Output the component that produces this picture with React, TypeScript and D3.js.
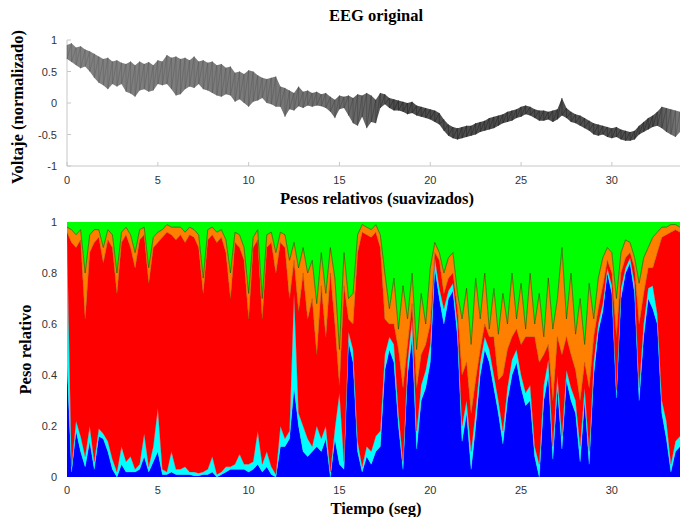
import React from "react";
import * as d3 from "d3";

// ---- data (sampled every 0.25 s) ----
const STEP = 0.25;

// EEG original: upper / lower envelope of the trace (normalised voltage)
const eegHigh = [
  0.92, 0.95, 0.88, 0.9, 0.85, 0.82, 0.78, 0.74, 0.7, 0.72, 0.66, 0.68, 0.64, 0.62, 0.66, 0.6, 0.66, 0.62, 0.65, 0.6,
  0.68, 0.66, 0.76, 0.72, 0.74, 0.7, 0.72, 0.68, 0.74, 0.66, 0.68, 0.64, 0.66, 0.6, 0.62, 0.56, 0.58, 0.48, 0.5, 0.46,
  0.52, 0.5, 0.44, 0.4, 0.38, 0.4, 0.42, 0.26, 0.24, 0.2, 0.16, 0.26, 0.18, 0.2, 0.16, 0.18, 0.14, 0.16, 0.1, 0.05,
  0.12, 0.1, 0.12, 0.08, 0.14, 0.12, 0.16, 0.12, 0.05, 0.16, 0.14, 0.08, 0.06, 0.04, 0.02, 0.0, 0.02, -0.04, -0.06, -0.08,
  -0.1, -0.12, -0.16, -0.26, -0.34, -0.38, -0.4, -0.38, -0.36, -0.36, -0.32, -0.3, -0.28, -0.24, -0.22, -0.2, -0.18, -0.14, -0.12, -0.1,
  -0.06, -0.04, -0.06, -0.1, -0.12, -0.12, -0.14, -0.12, -0.1, 0.08, -0.08, -0.14, -0.18, -0.2, -0.24, -0.28, -0.32, -0.34, -0.36, -0.38,
  -0.4, -0.38, -0.42, -0.44, -0.46, -0.44, -0.36, -0.3, -0.24, -0.2, -0.14, -0.06, -0.08, -0.1, -0.12, -0.14,
];
const eegLow = [
  0.7, 0.65, 0.6, 0.55, 0.58, 0.5, 0.4, 0.32, 0.28, 0.22, 0.3, 0.26, 0.3, 0.18, 0.15, 0.1, 0.2, 0.22, 0.18, 0.2,
  0.3, 0.28, 0.3, 0.22, 0.12, 0.14, 0.22, 0.26, 0.24, 0.3, 0.22, 0.2, 0.16, 0.12, 0.1, 0.14, 0.12, 0.02, 0.06, 0.0,
  -0.06, 0.02, 0.04, 0.08, 0.0, -0.02, -0.06, -0.06, -0.22, -0.1, -0.12, -0.05, -0.08, -0.04, -0.06, -0.04, -0.05, -0.08, -0.14, -0.24,
  -0.1, -0.08, -0.2, -0.32, -0.36, -0.22, -0.4, -0.3, -0.32, -0.08, -0.02, -0.08, -0.12, -0.12, -0.14, -0.18, -0.16, -0.2, -0.22, -0.24,
  -0.26, -0.3, -0.34, -0.44, -0.52, -0.56, -0.58, -0.56, -0.54, -0.52, -0.5, -0.46, -0.44, -0.42, -0.4, -0.36, -0.32, -0.3, -0.28, -0.24,
  -0.22, -0.18, -0.2, -0.24, -0.28, -0.28, -0.26, -0.3, -0.26, -0.2, -0.24, -0.3, -0.32, -0.36, -0.4, -0.44, -0.5, -0.52, -0.5, -0.54,
  -0.56, -0.54, -0.58, -0.6, -0.6, -0.58, -0.5, -0.46, -0.42, -0.38, -0.36, -0.4, -0.46, -0.5, -0.54, -0.46,
];

// Relative weights (smoothed), cumulative upper edge of each band
const deltaTop = [
  0.45, 0.02, 0.18, 0.1, 0.04, 0.14, 0.03, 0.16, 0.15, 0.1, 0.03, 0.0, 0.05, 0.02, 0.02, 0.02, 0.03, 0.08, 0.02, 0.06,
  0.1, 0.01, 0.01, 0.02, 0.01, 0.01, 0.01, 0.01, 0.005, 0.005, 0.01, 0.01, 0.02, 0.0, 0.01, 0.02, 0.03, 0.03, 0.03, 0.03,
  0.02, 0.03, 0.05, 0.02, 0.04, 0.01, 0.0, 0.12, 0.12, 0.15, 0.35, 0.2, 0.1, 0.08, 0.1, 0.12, 0.1, 0.15, 0.0, 0.15,
  0.05, 0.03, 0.53, 0.45, 0.1, 0.02, 0.08, 0.05, 0.1, 0.12, 0.42, 0.5, 0.45, 0.2, 0.03, 0.4, 0.55, 0.11, 0.3, 0.35,
  0.45, 0.82, 0.7, 0.6, 0.7, 0.73, 0.55, 0.14, 0.25, 0.03, 0.2, 0.4, 0.5, 0.45, 0.35, 0.25, 0.13, 0.3, 0.4, 0.45,
  0.35, 0.28, 0.3, 0.08, 0.0, 0.3, 0.4, 0.07, 0.35, 0.11, 0.38, 0.3, 0.25, 0.06, 0.3, 0.05, 0.4, 0.57, 0.65, 0.8,
  0.72, 0.31, 0.7, 0.8, 0.84, 0.72, 0.3, 0.55, 0.7, 0.66, 0.6, 0.25, 0.15, 0.02, 0.1, 0.12,
];
const thetaTop = [
  0.95, 0.04, 0.22, 0.16, 0.08, 0.2, 0.06, 0.19, 0.17, 0.14, 0.07, 0.02, 0.12, 0.06, 0.08, 0.03, 0.05, 0.17, 0.04, 0.12,
  0.27, 0.03, 0.02, 0.1, 0.03, 0.03, 0.04, 0.02, 0.02, 0.015, 0.02, 0.03, 0.08, 0.01, 0.02, 0.04, 0.04, 0.05, 0.09, 0.05,
  0.05, 0.06, 0.18, 0.05, 0.1, 0.04, 0.01, 0.2, 0.15, 0.18, 0.72, 0.25, 0.2, 0.15, 0.12, 0.2, 0.15, 0.2, 0.02, 0.19,
  0.33, 0.06, 0.57, 0.5, 0.14, 0.04, 0.12, 0.1, 0.16, 0.18, 0.48, 0.55, 0.52, 0.25, 0.06, 0.45, 0.62, 0.18, 0.36, 0.42,
  0.52, 0.86, 0.74, 0.66, 0.73, 0.76, 0.6, 0.2, 0.3, 0.1, 0.26, 0.45, 0.55, 0.5, 0.4, 0.3, 0.18, 0.35, 0.46, 0.5,
  0.4, 0.33, 0.36, 0.12, 0.05, 0.36, 0.46, 0.12, 0.4, 0.16, 0.42, 0.35, 0.3, 0.12, 0.35, 0.1, 0.45, 0.6, 0.68, 0.82,
  0.75, 0.34, 0.74, 0.82, 0.86, 0.76, 0.35, 0.6, 0.74, 0.75, 0.64, 0.3, 0.22, 0.05, 0.14, 0.16,
];
const alphaTop = [
  0.96, 0.92, 0.9, 0.93, 0.62, 0.88, 0.92, 0.94, 0.84, 0.93, 0.9, 0.72, 0.92, 0.95, 0.9, 0.82, 0.93, 0.95, 0.76, 0.9,
  0.92, 0.94, 0.96, 0.95, 0.93, 0.95, 0.92, 0.95, 0.94, 0.9, 0.72, 0.93, 0.95, 0.92, 0.94, 0.88, 0.7, 0.92, 0.9, 0.85,
  0.62, 0.9, 0.93, 0.62, 0.9, 0.92, 0.8, 0.92, 0.9, 0.7, 0.85, 0.65, 0.8, 0.62, 0.7, 0.48, 0.75, 0.55, 0.8, 0.6,
  0.36, 0.75, 0.62, 0.6, 0.88, 0.96, 0.95, 0.94, 0.96, 0.9, 0.62, 0.6, 0.6, 0.5, 0.35, 0.52, 0.68, 0.35, 0.48, 0.52,
  0.6, 0.88, 0.85, 0.72, 0.78, 0.8, 0.66, 0.4, 0.45, 0.25, 0.38, 0.5, 0.6, 0.55, 0.55, 0.38, 0.4, 0.5, 0.55, 0.58,
  0.52, 0.55, 0.55, 0.55, 0.45, 0.48, 0.52, 0.3, 0.55, 0.48, 0.55, 0.48, 0.42, 0.3, 0.45, 0.35, 0.55, 0.66, 0.75, 0.85,
  0.8, 0.55, 0.8, 0.86, 0.88, 0.82, 0.6, 0.72, 0.82, 0.82, 0.88, 0.94, 0.95, 0.96, 0.97, 0.96,
];
const betaTop = [
  0.98, 0.97, 0.95, 0.97, 0.8, 0.95, 0.97, 0.97, 0.9, 0.97, 0.95, 0.8, 0.96, 0.98, 0.95, 0.88, 0.97, 0.98, 0.82, 0.94,
  0.96, 0.97, 0.99, 0.98, 0.98, 0.98, 0.96, 0.98, 0.97, 0.95, 0.78, 0.97, 0.98, 0.96, 0.97, 0.93, 0.8, 0.96, 0.95, 0.9,
  0.72, 0.94, 0.97, 0.7, 0.95, 0.96, 0.88, 0.96, 0.95, 0.85, 0.92, 0.82, 0.9, 0.8, 0.85, 0.68, 0.88, 0.72, 0.9, 0.78,
  0.5, 0.88, 0.7, 0.72, 0.95, 0.99, 0.98, 0.97, 0.99, 0.95, 0.8, 0.66, 0.78, 0.58, 0.75, 0.62, 0.8, 0.5, 0.72, 0.6,
  0.82, 0.92, 0.88, 0.8, 0.86, 0.88, 0.72, 0.62, 0.74, 0.52, 0.78, 0.62, 0.8, 0.58, 0.74, 0.56, 0.72, 0.6, 0.8, 0.62,
  0.76, 0.58, 0.8, 0.6, 0.72, 0.55, 0.78, 0.58, 0.7, 0.9, 0.62, 0.8, 0.56, 0.7, 0.52, 0.76, 0.62, 0.78, 0.86, 0.9,
  0.88, 0.7, 0.88, 0.93, 0.92, 0.86, 0.76, 0.86, 0.9, 0.94, 0.96, 0.98, 0.98, 0.99, 0.99, 0.98,
];

const xTicks = [0, 5, 10, 15, 20, 25, 30];
const eegTicks = [-1, -0.5, 0, 0.5, 1];
const weightTicks = [0, 0.2, 0.4, 0.6, 0.8, 1];

const bandColors = ["#0000ff", "#00ffff", "#ff0000", "#ff8000", "#00ff00"];

const W = 680;
const H = 517;
const X0 = 67;
const X1 = 680;
const T_MAX = 33.75;

const SANS = "'Liberation Sans', Arial, sans-serif";
const SERIF = "'Liberation Serif', 'Times New Roman', serif";

export default function App() {
  const n = Math.min(eegHigh.length, eegLow.length, deltaTop.length, thetaTop.length, alphaTop.length, betaTop.length);
  const idx = d3.range(n);
  const times = idx.map((i) => i * STEP);

  const x = d3.scaleLinear().domain([0, T_MAX]).range([X0, X1]);
  const yTop = d3.scaleLinear().domain([-1, 1]).range([166, 40]);
  const yBot = d3.scaleLinear().domain([0, 1]).range([477, 222]);

  // EEG: envelope band + min/max trace through the read extremes
  const eegArea = d3
    .area<number>()
    .x((i) => x(times[i]))
    .y0((i) => yTop(eegLow[i]))
    .y1((i) => yTop(eegHigh[i]));
  const tracePts: [number, number][] = idx.flatMap((i) => [
    [x(times[i]), yTop(eegHigh[i])] as [number, number],
    [x(times[i]), yTop(eegLow[i])] as [number, number],
  ]);
  const trace = d3.line<[number, number]>();

  const zero = idx.map(() => 0);
  const full = idx.map(() => 1);
  const edges = [zero, deltaTop, thetaTop, alphaTop, betaTop, full];
  const bands = bandColors.map((c, k) => {
    const lo = edges[k];
    const hi = edges[k + 1];
    const gen = d3
      .area<number>()
      .x((i) => x(times[i]))
      .y0((i) => yBot(lo[i]))
      .y1((i) => yBot(hi[i]));
    return { color: c, d: gen(idx) || "" };
  });
  const betaLine = d3.line<number>().x((i) => x(times[i])).y((i) => yBot(betaTop[i]));
  const alphaLine = d3.line<number>().x((i) => x(times[i])).y((i) => yBot(alphaTop[i]));

  const grad = [
    { t: 0, c: "#505050" },
    { t: 11, c: "#464646" },
    { t: 16.5, c: "#2a2a2a" },
    { t: 18, c: "#080808" },
    { t: 32.3, c: "#0c0c0c" },
    { t: 33.75, c: "#444444" },
  ];

  return (
    <svg
      width={W}
      height={H}
      viewBox={`0 0 ${W} ${H}`}
      style={{ position: "absolute", left: 0, top: 0, background: "#fff" }}
    >
      <defs>
        <linearGradient id="eegGrad" gradientUnits="userSpaceOnUse" x1={X0} x2={X1} y1={0} y2={0}>
          {grad.map((g, k) => (
            <stop key={k} offset={(x(g.t) - X0) / (X1 - X0)} stopColor={g.c} />
          ))}
        </linearGradient>
        <clipPath id="botClip">
          <rect x={X0} y={yBot(1)} width={X1 - X0} height={yBot(0) - yBot(1)} />
        </clipPath>
      </defs>

      {/* ---------- Top panel ---------- */}
      <text x={376} y={21} textAnchor="middle" fontFamily={SERIF} fontWeight="bold" fontSize={16.5}>
        EEG original
      </text>
      <line x1={X0} x2={X0} y1={yTop(1)} y2={yTop(-1)} stroke="#c8c8c8" strokeWidth={1} />
      <line x1={X0} x2={X1} y1={yTop(-1)} y2={yTop(-1)} stroke="#c8c8c8" strokeWidth={1} />
      {eegTicks.map((v) => (
        <g key={"yt" + v}>
          <line x1={X0} x2={X0 + 4} y1={yTop(v)} y2={yTop(v)} stroke="#c8c8c8" />
          <text x={57} y={yTop(v) + 4} textAnchor="end" fontFamily={SANS} fontSize={11} fill="#333">
            {String(v)}
          </text>
        </g>
      ))}
      {xTicks.map((v) => (
        <g key={"xt" + v}>
          <line x1={x(v)} x2={x(v)} y1={yTop(-1)} y2={yTop(-1) - 4} stroke="#c8c8c8" />
          <text x={x(v)} y={184} textAnchor="middle" fontFamily={SANS} fontSize={11} fill="#333">
            {String(v)}
          </text>
        </g>
      ))}
      <path d={eegArea(idx) || ""} fill="url(#eegGrad)" fillOpacity={0.72} />
      <path d={trace(tracePts) || ""} fill="none" stroke="url(#eegGrad)" strokeWidth={0.6} strokeOpacity={0.6} />
      <text
        transform={`translate(23,${(yTop(1) + yTop(-1)) / 2 + 4}) rotate(-90)`}
        textAnchor="middle"
        fontFamily={SERIF}
        fontWeight="bold"
        fontSize={16.5}
      >
        Voltaje (normalizado)
      </text>

      {/* ---------- Bottom panel ---------- */}
      <text x={377} y={204} textAnchor="middle" fontFamily={SERIF} fontWeight="bold" fontSize={16.5}>
        Pesos relativos (suavizados)
      </text>
      <g clipPath="url(#botClip)">
        {bands.map((b, k) => (
          <path key={k} d={b.d} fill={b.color} stroke={b.color} strokeWidth={0.3} />
        ))}
        <path d={alphaLine(idx) || ""} fill="none" stroke="#5a2a00" strokeWidth={0.7} strokeOpacity={0.35} />
        <path d={betaLine(idx) || ""} fill="none" stroke="#3d3a00" strokeWidth={0.8} strokeOpacity={0.75} />
      </g>
      {weightTicks.map((v) => (
        <text key={"wt" + v} x={57} y={yBot(v) + 4} textAnchor="end" fontFamily={SANS} fontSize={11} fill="#333">
          {String(v)}
        </text>
      ))}
      {xTicks.map((v) => (
        <text key={"bx" + v} x={x(v)} y={494} textAnchor="middle" fontFamily={SANS} fontSize={11} fill="#333">
          {String(v)}
        </text>
      ))}
      <text
        transform={`translate(31,${(yBot(1) + yBot(0)) / 2}) rotate(-90)`}
        textAnchor="middle"
        fontFamily={SERIF}
        fontWeight="bold"
        fontSize={16.5}
      >
        Peso relativo
      </text>
      <text x={376} y={514} textAnchor="middle" fontFamily={SERIF} fontWeight="bold" fontSize={16.5}>
        Tiempo (seg)
      </text>
    </svg>
  );
}
